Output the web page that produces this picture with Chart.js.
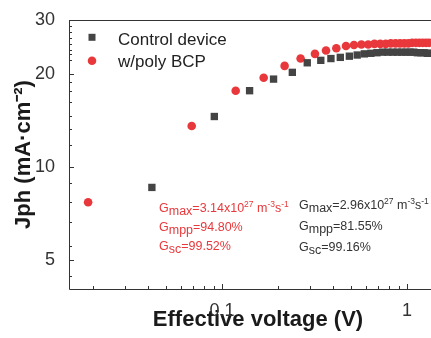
<!DOCTYPE html>
<html>
<head>
<meta charset="utf-8">
<script src="https://cdn.jsdelivr.net/npm/chart.js@4.4.1/dist/chart.umd.min.js"></script>
<style>
html, body { margin: 0; padding: 0; background: #fff; overflow: hidden; }
#wrap { width: 447px; height: 338px; }
</style>
</head>
<body>
<div id="wrap"><canvas id="myChart" width="447" height="338"></canvas></div>
<script>
const controlVoltage = [0.0418, 0.0909, 0.141, 0.190, 0.240, 0.289, 0.342, 0.388, 0.436, 0.488, 0.538, 0.588, 0.638, 0.688, 0.738, 0.788, 0.838, 0.888, 0.938, 0.988, 1.038, 1.088, 1.138, 1.188, 1.238, 1.288, 1.338];
const controlJph = [8.6, 14.6, 17.7, 19.3, 20.3, 21.8, 22.2, 22.5, 22.7, 22.9, 23.1, 23.3, 23.4, 23.5, 23.6, 23.6, 23.6, 23.6, 23.6, 23.6, 23.6, 23.6, 23.5, 23.5, 23.5, 23.4, 23.4];
const bcpVoltage = [0.0189, 0.0686, 0.1186, 0.168, 0.218, 0.266, 0.318, 0.365, 0.415, 0.468, 0.517, 0.567, 0.617, 0.667, 0.717, 0.767, 0.817, 0.867, 0.917, 0.967, 1.017, 1.067, 1.117, 1.167, 1.217, 1.267, 1.317];
const bcpJph = [7.7, 13.6, 17.7, 19.5, 21.3, 22.5, 23.3, 23.9, 24.3, 24.7, 24.9, 25.0, 25.0, 25.1, 25.1, 25.1, 25.2, 25.2, 25.2, 25.2, 25.2, 25.3, 25.3, 25.3, 25.3, 25.3, 25.3];

const xTickLabels = [0.1, 1];
const xMinorTicks = [0.02, 0.03, 0.04, 0.05, 0.06, 0.07, 0.08, 0.09, 0.2, 0.3, 0.4, 0.5, 0.6, 0.7, 0.8, 0.9];
const yTickLabels = [5, 10, 20, 30];
const yMinorTicks = [4.45, 5.55, 6.65, 7.7, 8.9, 11.8, 13.3, 14.7, 16.3, 17.6, 18.9, 22.2, 23.2, 24.0, 25.1, 26.2, 27.4, 28.6];

const RED = '#e8383b';
const DARK = '#444444';
const FONT = '"Liberation Sans", Arial, sans-serif';

const near = (v, t) => Math.abs(v - t) < t * 1e-3;

// one label per wanted value, even if the scale hands us the same value twice
const labelFor = (wanted, fmt) => (v, i, ticks) => {
    const hit = wanted.find(t => near(v, t));
    if (hit === undefined) return '';
    if (i > 0 && near(ticks[i - 1].value, hit)) return '';
    return fmt(hit);
};

const drawRich = (ctx, x, y, parts, color) => {
    ctx.fillStyle = color;
    ctx.textAlign = 'left';
    ctx.textBaseline = 'alphabetic';
    parts.forEach(([text, kind]) => {
        const size = kind === 'sup' ? 8.5 : 12.5;
        const dy = kind === 'sub' ? 3 : kind === 'sup' ? -5 : 0;
        ctx.font = `${size}px ${FONT}`;
        ctx.fillText(text, x, y + dy);
        x += ctx.measureText(text).width;
    });
};

const framePlugin = {
    id: 'frame',
    afterDraw(chart) {
        const ctx = chart.ctx;
        const { left, right, top, bottom } = chart.chartArea;
        const xs = chart.scales.x, ys = chart.scales.y;
        ctx.save();
        ctx.strokeStyle = '#333';
        ctx.lineWidth = 1;
        ctx.beginPath();
        ctx.moveTo(right, top + 0.5); ctx.lineTo(left + 0.5, top + 0.5);
        ctx.lineTo(left + 0.5, bottom + 0.5); ctx.lineTo(right, bottom + 0.5);
        const tick = (vals, len, horiz) => vals.forEach(v => {
            if (horiz) {
                const px = Math.round(xs.getPixelForValue(v)) + 0.5;
                ctx.moveTo(px, bottom); ctx.lineTo(px, bottom - len);
            } else {
                const py = Math.round(ys.getPixelForValue(v)) + 0.5;
                ctx.moveTo(left, py); ctx.lineTo(left + len, py);
            }
        });
        tick(xTickLabels, 5, true);
        tick(xMinorTicks, 3, true);
        tick(yTickLabels, 5, false);
        tick(yMinorTicks, 3, false);
        ctx.stroke();

        // legend
        ctx.fillStyle = DARK;
        ctx.fillRect(88.5, 33.8, 7, 7);
        ctx.fillStyle = RED;
        ctx.beginPath();
        ctx.arc(92, 60.7, 4.3, 0, Math.PI * 2);
        ctx.fill();
        ctx.fillStyle = '#222';
        ctx.font = `17px ${FONT}`;
        ctx.textAlign = 'left';
        ctx.textBaseline = 'alphabetic';
        ctx.fillText('Control device', 118, 45);
        ctx.fillText('w/poly BCP', 118, 66.5);

        // annotations
        drawRich(ctx, 159, 212, [['G'], ['max', 'sub'], ['=3.14x10'], ['27', 'sup'], [' m'], ['-3', 'sup'], ['s'], ['-1', 'sup']], RED);
        drawRich(ctx, 159, 231, [['G'], ['mpp', 'sub'], ['=94.80%']], RED);
        drawRich(ctx, 159, 250, [['G'], ['sc', 'sub'], ['=99.52%']], RED);
        drawRich(ctx, 299, 209, [['G'], ['max', 'sub'], ['=2.96x10'], ['27', 'sup'], [' m'], ['-3', 'sup'], ['s'], ['-1', 'sup']], '#333');
        drawRich(ctx, 299, 230, [['G'], ['mpp', 'sub'], ['=81.55%']], '#333');
        drawRich(ctx, 299, 251, [['G'], ['sc', 'sub'], ['=99.16%']], '#333');
        ctx.restore();
    }
};

const makeChart = () => {
    const ctx = document.getElementById('myChart');
    new Chart(ctx, {
        type: 'scatter',
        data: {
            datasets: [
                {
                    label: 'Control device',
                    data: controlVoltage.map((v, i) => ({ x: v, y: controlJph[i] })),
                    pointStyle: 'rect',
                    pointRadius: 5.2,
                    pointBorderWidth: 0,
                    backgroundColor: DARK,
                    borderColor: DARK
                },
                {
                    label: 'w/poly BCP',
                    data: bcpVoltage.map((v, i) => ({ x: v, y: bcpJph[i] })),
                    pointStyle: 'circle',
                    pointRadius: 4.3,
                    pointBorderWidth: 0,
                    backgroundColor: RED,
                    borderColor: RED
                }
            ]
        },
        options: {
            responsive: false,
            animation: false,
            devicePixelRatio: 1,
            layout: { autoPadding: false, padding: { top: 20, left: 0, right: 0, bottom: 0 } },
            plugins: { legend: { display: false }, tooltip: { enabled: false } },
            scales: {
                x: {
                    type: 'logarithmic',
                    min: 0.0149,
                    max: 1.645,
                    grid: { display: false },
                    border: { display: false },
                    afterFit: (s) => { s.height = 49; s.paddingLeft = 0; s.paddingRight = 0; },
                    ticks: {
                        autoSkip: false,
                        maxRotation: 0,
                        padding: 3,
                        color: '#333',
                        font: { family: FONT, size: 18 },
                        callback: labelFor(xTickLabels, (t) => String(t))
                    },
                    title: {
                        display: true,
                        text: 'Effective voltage (V)',
                        color: '#1a1a1a',
                        font: { family: FONT, size: 22, weight: 'bold' },
                        padding: { top: 0, bottom: 5 }
                    }
                },
                y: {
                    type: 'logarithmic',
                    min: 4.03,
                    max: 30,
                    grid: { display: false },
                    border: { display: false },
                    afterFit: (s) => { s.width = 69; s.paddingTop = 0; s.paddingBottom = 0; },
                    ticks: {
                        autoSkip: false,
                        padding: 6,
                        color: '#333',
                        font: { family: FONT, size: 18 },
                        callback: labelFor(yTickLabels, (t) => String(t))
                    },
                    title: {
                        display: true,
                        text: 'Jph (mA\u00b7cm\u207b\u00b2)',
                        color: '#1a1a1a',
                        font: { family: FONT, size: 22, weight: 'bold' },
                        padding: { top: 11, bottom: 0 }
                    }
                }
            }
        },
        plugins: [framePlugin]
    });
};

(function () {
    makeChart();
})();
</script>
</body>
</html>
